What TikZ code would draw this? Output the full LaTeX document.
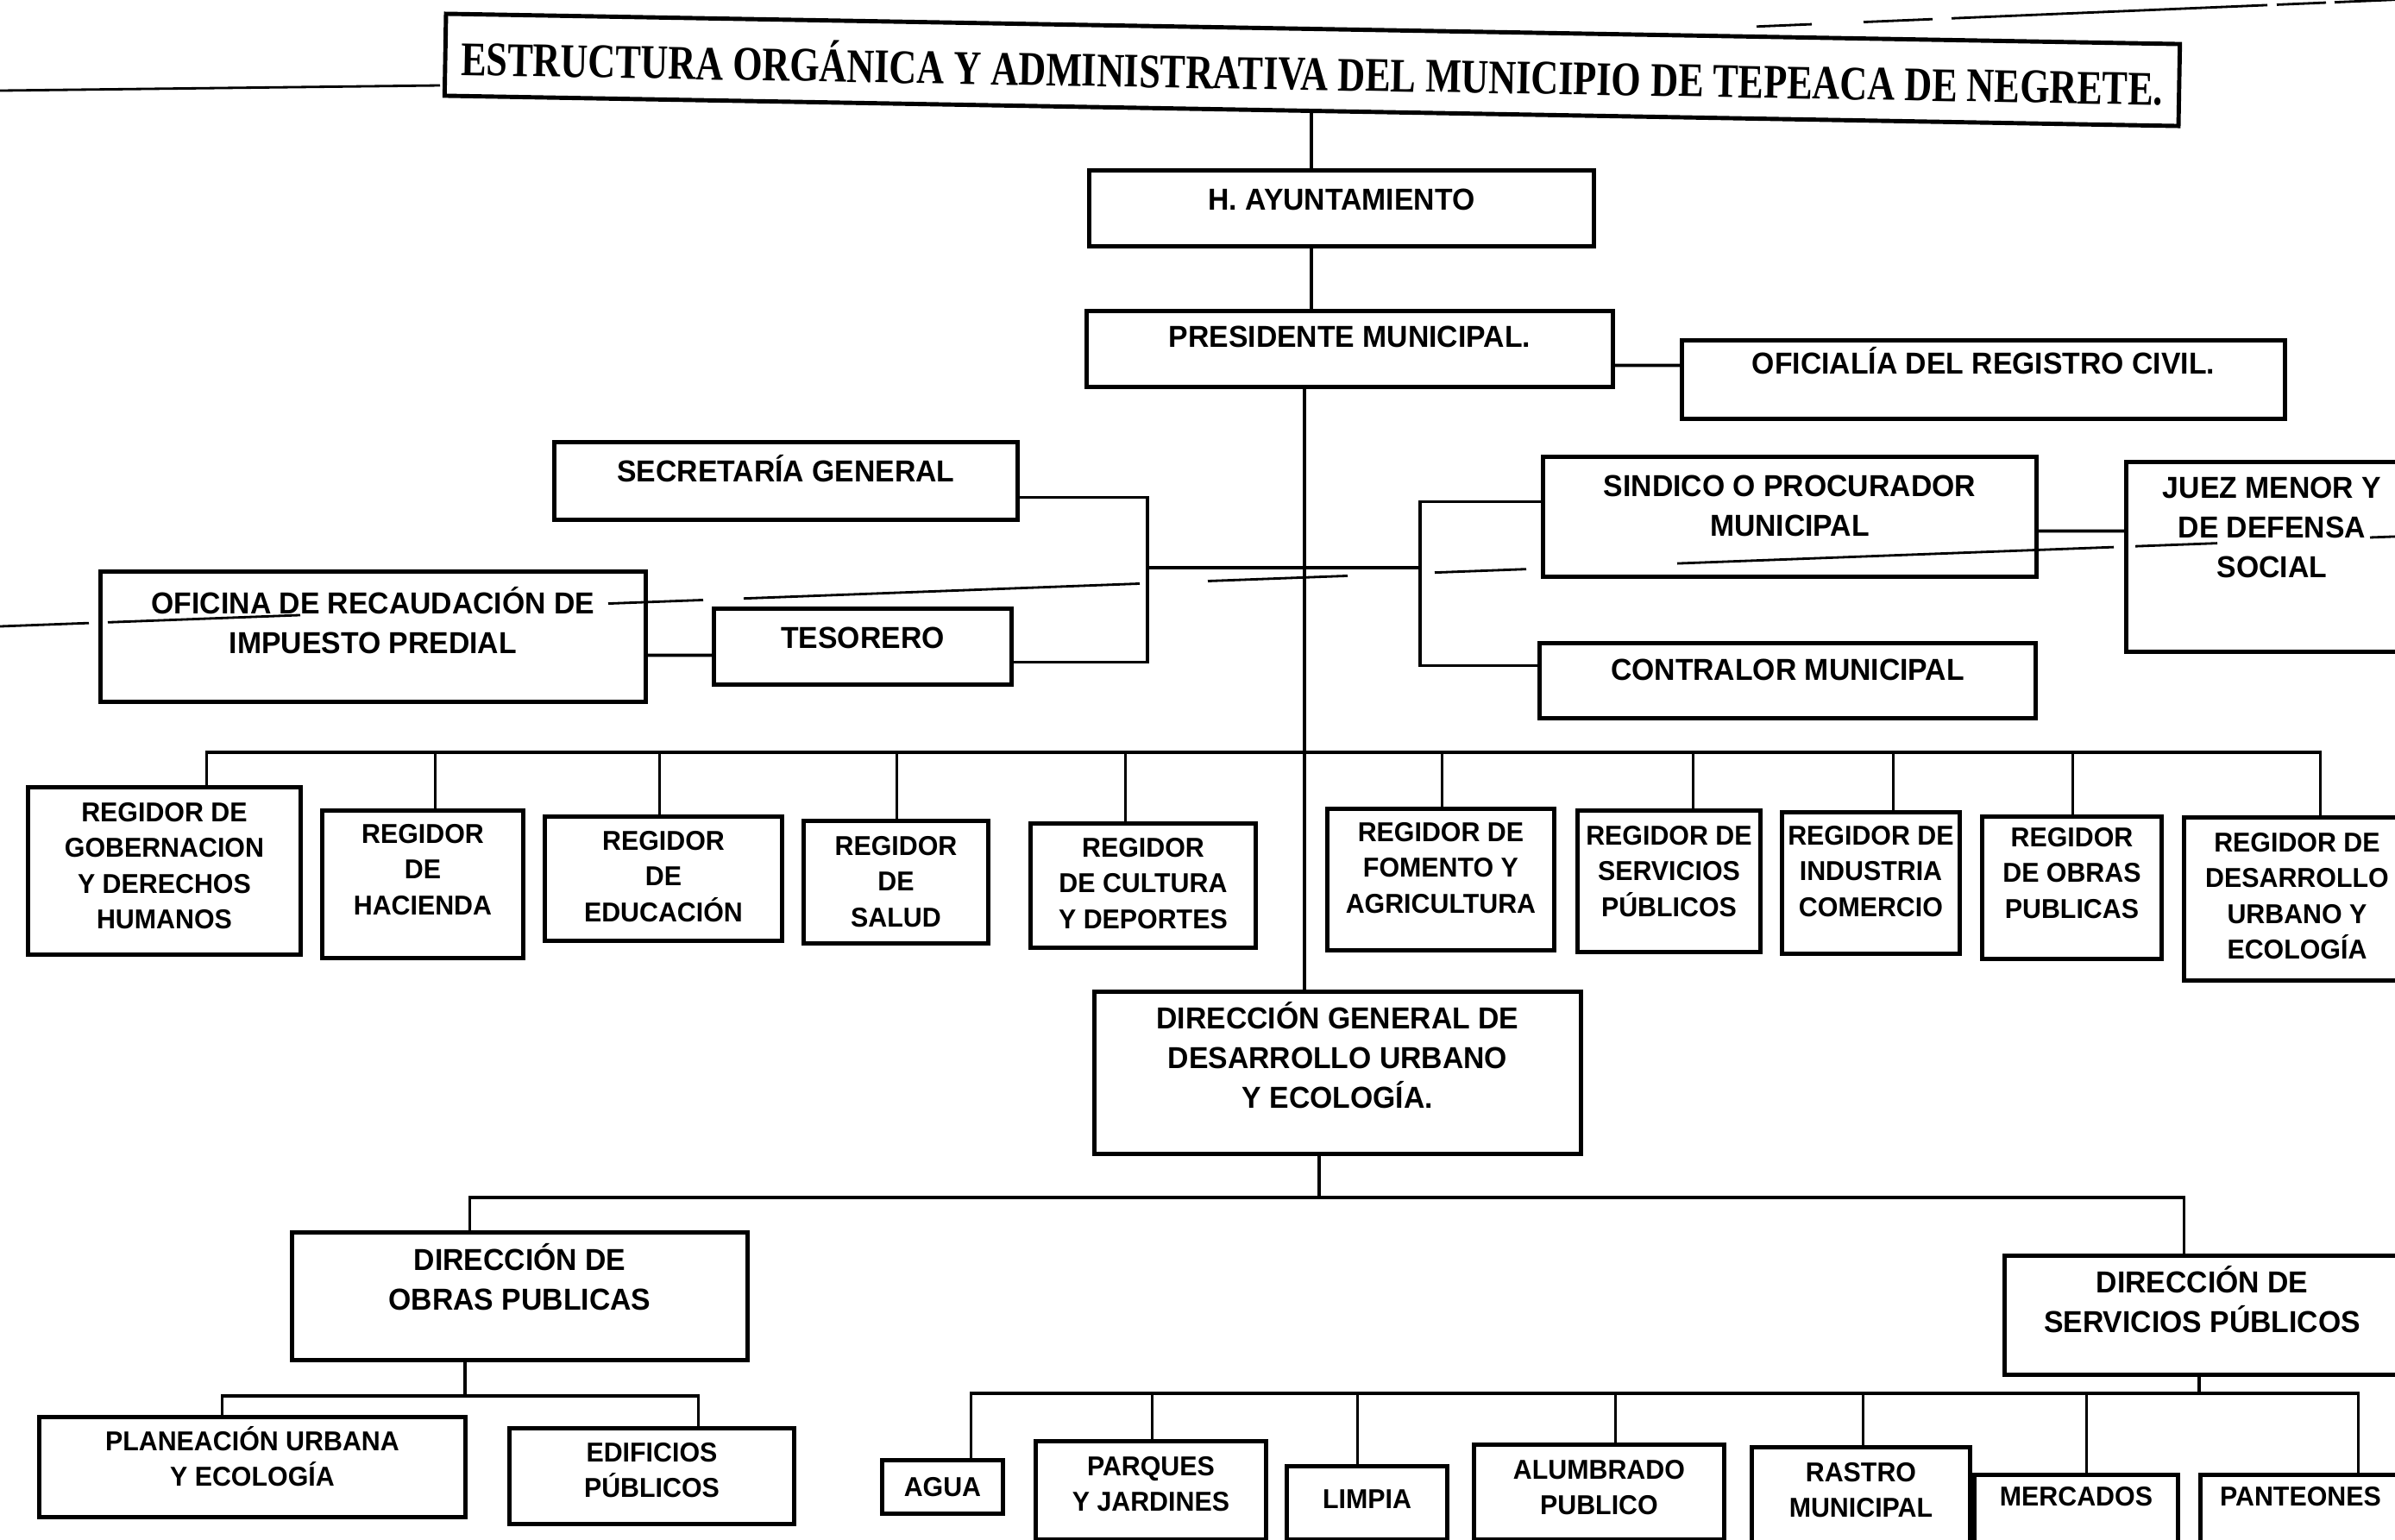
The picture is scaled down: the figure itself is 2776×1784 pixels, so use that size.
\documentclass[tikz,border=0pt]{standalone}
\usepackage{fontspec}
\setmainfont{Liberation Sans}[FakeStretch=0.96]
\newfontfamily\titlefont{Liberation Serif}[FakeStretch=0.79]
\usetikzlibrary{calc}
\newlength{\pxu}
\setlength{\pxu}{0.1mm}
% box text: width, height, top padding (in px), text
\newcommand{\orgtext}[4]{\parbox[c][#2\pxu][t]{#1\pxu}{\centering\rule{0pt}{\dimexpr#3\pxu+0.72em\relax}#4}}

\begin{document}
\begin{tikzpicture}[x=0.1mm, y=-0.1mm,
    orgbox/.style={draw, line width=1.4pt, inner sep=0pt, anchor=north west},
    uptxt/.style={font=\fontsize{10}{13}\selectfont\bfseries},
    lowtxt/.style={font=\fontsize{9}{11.8}\selectfont\bfseries},
    link/.style={line width=1.1pt},
    stray/.style={line width=0.8pt}]
    \useasboundingbox (0,0) rectangle (2776,1784);
    \fill[white] (0,0) rectangle (2776,1784);
    \clip (0,0) rectangle (2776,1784);

    \node [draw, line width=1.4pt, inner sep=0pt, rotate=-1, font=\titlefont\bfseries\fontsize{15.9}{18}\selectfont] (title) at (1521,81) {\parbox[c][95\pxu][c]{2010\pxu}{\centering\mbox{ESTRUCTURA ORGÁNICA Y ADMINISTRATIVA DEL MUNICIPIO DE TEPEACA DE NEGRETE.}}};

    % top of the chart
    \node [orgbox, uptxt] (ayu) at (1260,195) {\orgtext{585}{88}{21}{H. AYUNTAMIENTO}};
    \node [orgbox, uptxt] (pres) at (1257,358) {\orgtext{610}{88}{17}{PRESIDENTE MUNICIPAL.}};
    \node [orgbox, uptxt] (ofi) at (1947,392) {\orgtext{699}{91}{14}{OFICIALÍA DEL REGISTRO CIVIL.}};
    \node [orgbox, uptxt] (sec) at (640,510) {\orgtext{537}{90}{21}{SECRETARÍA GENERAL}};
    \node [orgbox, uptxt] (ofic) at (114,660) {\orgtext{632}{151}{24}{OFICINA DE RECAUDACIÓN DE\\IMPUESTO PREDIAL}};
    \node [orgbox, uptxt] (tes) at (825,703) {\orgtext{345}{88}{21}{TESORERO}};
    \node [orgbox, uptxt] (sin) at (1786,527) {\orgtext{572}{139}{21}{SINDICO O PROCURADOR\\MUNICIPAL}};
    \node [orgbox, uptxt] (con) at (1782,743) {\orgtext{575}{87}{18}{CONTRALOR MUNICIPAL}};
    \node [orgbox, uptxt] (juez) at (2462,533) {\orgtext{338}{220}{17}{JUEZ MENOR Y\\DE DEFENSA\\SOCIAL}};

    % regidores
    \node [orgbox, lowtxt] (rgob) at (30,910) {\orgtext{316}{194}{17}{REGIDOR DE\\GOBERNACION\\Y DERECHOS\\HUMANOS}};
    \node [orgbox, lowtxt] (rhac) at (371,937) {\orgtext{233}{171}{15}{REGIDOR\\DE\\HACIENDA}};
    \node [orgbox, lowtxt] (redu) at (629,944) {\orgtext{275}{144}{16}{REGIDOR\\DE\\EDUCACIÓN}};
    \node [orgbox, lowtxt] (rsal) at (929,949) {\orgtext{214}{142}{17}{REGIDOR\\DE\\SALUD}};
    \node [orgbox, lowtxt] (rcul) at (1192,952) {\orgtext{261}{144}{16}{REGIDOR\\DE CULTURA\\Y DEPORTES}};
    \node [orgbox, lowtxt] (rfom) at (1536,935) {\orgtext{263}{164}{15}{REGIDOR DE\\FOMENTO Y\\AGRICULTURA}};
    \node [orgbox, lowtxt] (rser) at (1826,937) {\orgtext{212}{164}{17}{REGIDOR~DE\\SERVICIOS\\PÚBLICOS}};
    \node [orgbox, lowtxt] (rind) at (2063,939) {\orgtext{206}{164}{15}{REGIDOR~DE\\INDUSTRIA\\COMERCIO}};
    \node [orgbox, lowtxt] (robr) at (2295,944) {\orgtext{208}{165}{12}{REGIDOR\\DE OBRAS\\PUBLICAS}};
    \node [orgbox, lowtxt] (rdes) at (2529,945) {\orgtext{262}{189}{17}{REGIDOR DE\\DESARROLLO\\URBANO Y\\ECOLOGÍA}};

    % direcciones
    \node [orgbox, uptxt] (dgen) at (1266,1147) {\orgtext{564}{188}{18}{DIRECCIÓN GENERAL DE\\DESARROLLO URBANO\\Y ECOLOGÍA.}};
    \node [orgbox, uptxt] (dobr) at (336,1426) {\orgtext{528}{148}{19}{DIRECCIÓN DE\\OBRAS PUBLICAS}};
    \node [orgbox, uptxt] (dser) at (2321,1453) {\orgtext{458}{138}{18}{DIRECCIÓN DE\\SERVICIOS PÚBLICOS}};

    % bottom row
    \node [orgbox, lowtxt] (plan) at (43,1640) {\orgtext{494}{116}{16}{PLANEACIÓN URBANA\\Y ECOLOGÍA}};
    \node [orgbox, lowtxt] (edif) at (588,1653) {\orgtext{330}{111}{16}{EDIFICIOS\\PÚBLICOS}};
    \node [orgbox, lowtxt] (agua) at (1020,1690) {\orgtext{140}{62}{19}{AGUA}};
    \node [orgbox, lowtxt] (parq) at (1198,1668) {\orgtext{267}{114}{17}{PARQUES\\Y JARDINES}};
    \node [orgbox, lowtxt] (limp) at (1489,1697) {\orgtext{186}{85}{26}{LIMPIA}};
    \node [orgbox, lowtxt] (alum) at (1706,1672) {\orgtext{290}{110}{17}{ALUMBRADO\\PUBLICO}};
    \node [orgbox, lowtxt] (rast) at (2028,1675) {\orgtext{253}{125}{17}{RASTRO\\MUNICIPAL}};
    \node [orgbox, lowtxt] (merc) at (2286,1707) {\orgtext{236}{93}{13}{MERCADOS}};
    \node [orgbox, lowtxt] (pant) at (2548,1707) {\orgtext{232}{93}{13}{PANTEONES}};

    \coordinate (spine) at (1512,0);
    \coordinate (lbr) at (1330,658);
    \coordinate (rbr) at (1646,658);
    \coordinate (rbus) at (1512,872);
    \coordinate (dbus) at (1529,1388);
    \coordinate (obus) at (539,1618);
    \coordinate (sbus) at (2549,1615);

    % main line
    \draw [link] (title.south) -- (title.south |- ayu.north);
    \draw [link] (title.south |- ayu.south) -- (title.south |- pres.north);
    \draw [link] ([yshift=-1.9mm]pres.east) -- ([yshift=1.65mm]ofi.west);
    \draw [link] (spine |- pres.south) -- (spine |- dgen.north);

    % brackets left and right of the main line
    \draw [link] ([yshift=-1.9mm]sec.east) -| (lbr) |- ([yshift=-1.8mm]tes.east);
    \draw [link] ([yshift=-2.15mm]ofic.east) -- ([yshift=-1mm]tes.west);
    \draw [link] (lbr) -- (rbr);
    \draw [link] ([yshift=1.75mm]sin.west) -| (rbr) |- ([yshift=1.75mm]con.west);
    \draw [link] ([yshift=-1.65mm]sin.east) -- ([yshift=3mm]juez.west);

    % regidores
    \draw [link] ([xshift=4.9mm]rgob.north) |- (rbus) -| ([xshift=2.7mm]rdes.north);
    \foreach \n/\s in {rhac/1.45, redu/-0.45, rsal/0.1, rcul/-2.05, rfom/0.15, rser/2.8, rind/2.6, robr/0.1}
        \draw [link] ([xshift=\s mm]\n.north) |- (rbus);

    % direcciones
    \draw [link] (dgen.south -| dbus) -- (dbus);
    \draw [link] ([xshift=-5.8mm]dobr.north) |- (dbus) -| ([xshift=-2.1mm]dser.north);
    \draw [link] (dobr.south -| obus) -- (obus);
    \draw [link] ([xshift=-3.5mm]plan.north) |- (obus) -| ([xshift=5.4mm]edif.north);
    \draw [link] (dser.south -| sbus) -- (sbus);
    \draw [link] ([xshift=3.3mm]agua.north) |- (sbus) -| ([xshift=6.7mm]pant.north);
    \foreach \n/\s in {parq/0.15, limp/-1.1, alum/1.9, rast/0.25, merc/1.2}
        \draw [link] ([xshift=\s mm]\n.north) |- (sbus);

    % stray lines of the scan
    \draw [stray] (0,105) -- (510,99);
    \foreach \a/\b in {2036/2100, 2160/2240, 2262/2628, 2639/2696, 2706/2776}
        \draw [stray] (\a,{31-0.042*(\a-2030)}) -- (\b,{31-0.042*(\b-2030)});
    \foreach \a/\b in {0/103, 125/348, 705/815, 862/1321, 1400/1562, 1663/1769, 1944/2450, 2475/2570, 2747/2776}
        \draw [stray] (\a,{726-0.0375*\a}) -- (\b,{726-0.0375*\b});
\end{tikzpicture}
\end{document}
